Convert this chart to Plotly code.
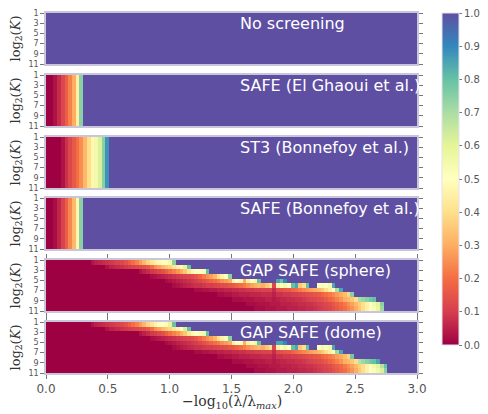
import numpy as np
import plotly.graph_objects as go

# ---------------- data ----------------
N_COLS = 100                      # lambda grid: 0 .. 3 in -log10(lambda/lambda_max)
N_ROWS = 11                       # log2(K) = 1 .. 11
x_edges = np.linspace(0, 3, N_COLS + 1)
y_edges = np.linspace(1, 11, N_ROWS + 1)

panel_titles = ["No screening", "SAFE (El Ghaoui et al.)", "ST3 (Bonnefoy et al.)",
                "SAFE (Bonnefoy et al.)", "GAP SAFE (sphere)", "GAP SAFE (dome)"]

# rows identical for every K in the first four panels (values before they reach 1)
no_screen_row = []
safe_elg_row = [0.0, 0.0, 0.03, 0.07, 0.12, 0.17, 0.23, 0.3, 0.45, 0.75]
st3_row = [0.0, 0.0, 0.0, 0.0, 0.03, 0.08, 0.12, 0.16, 0.2, 0.25, 0.32, 0.4, 0.47,
           0.55, 0.62, 0.75, 0.88]
safe_bon_row = [0.0, 0.0, 0.02, 0.06, 0.11, 0.17, 0.24, 0.32, 0.47, 0.75]

# GAP SAFE panels: first non-zero column per row, and the values from there on
sphere_start = [12, 16, 25, 28, 32, 34, 40, 46, 50, 54, 56]
sphere_vals = [
    [0.03, 0.05, 0.06, 0.07, 0.08, 0.09, 0.1, 0.11, 0.12, 0.14, 0.17, 0.2, 0.23, 0.27,
     0.32, 0.38, 0.42, 0.45, 0.48, 0.5, 0.5, 0.55, 0.75],
    [0.03, 0.05, 0.06, 0.07, 0.08, 0.09, 0.1, 0.11, 0.12, 0.13, 0.14, 0.16, 0.2, 0.25,
     0.28, 0.32, 0.35, 0.38, 0.42, 0.45, 0.48, 0.6, 0.8],
    [0.03, 0.05, 0.07, 0.09, 0.1, 0.12, 0.14, 0.17, 0.2, 0.23, 0.26, 0.3, 0.35, 0.42,
     0.47, 0.5, 0.5, 0.52, 0.8],
    [0.02, 0.03, 0.04, 0.05, 0.06, 0.07, 0.08, 0.09, 0.1, 0.11, 0.12, 0.13, 0.15, 0.18,
     0.22, 0.25, 0.28, 0.32, 0.4, 0.46, 0.5, 0.75],
    [0.02, 0.03, 0.04, 0.05, 0.06, 0.07, 0.08, 0.09, 0.1, 0.12, 0.14, 0.16, 0.18, 0.2,
     0.22, 0.25, 0.27, 0.3, 0.45, 0.5, 0.48, 0.3, 0.45, 0.5, 0.55, 0.8, 1, 1, 1, 1,
     0.85, 0.8, 0.9],
    [0.02, 0.03, 0.04, 0.05, 0.06, 0.07, 0.08, 0.08, 0.09, 0.1, 0.1, 0.11, 0.12, 0.13,
     0.14, 0.15, 0.16, 0.18, 0.2, 0.22, 0.25, 0.28, 0.3, 0.32, 0.3, 0.35, 0.4, 0.12,
     0.45, 0.5, 0.55, 0.5, 0.8, 0.85, 0.35, 0.4, 0.8, 1, 1, 0.5, 0.52, 0.5, 0.55, 0.85],
    [0.02, 0.02, 0.03, 0.03, 0.04, 0.04, 0.05, 0.05, 0.06, 0.06, 0.07, 0.07, 0.08, 0.08,
     0.09, 0.09, 0.1, 0.1, 0.11, 0.11, 0.12, 0.07, 0.13, 0.14, 0.15, 0.16, 0.18, 0.2,
     0.22, 0.24, 0.26, 0.28, 0.3, 0.32, 0.35, 0.4, 0.45, 0.5, 0.7, 0.85],
    [0.02, 0.02, 0.03, 0.03, 0.04, 0.04, 0.05, 0.05, 0.05, 0.06, 0.06, 0.06, 0.07, 0.07,
     0.07, 0.05, 0.08, 0.08, 0.09, 0.09, 0.1, 0.1, 0.11, 0.12, 0.13, 0.14, 0.15, 0.16,
     0.18, 0.2, 0.22, 0.24, 0.27, 0.3, 0.33, 0.38, 0.75],
    [0.02, 0.02, 0.02, 0.03, 0.03, 0.03, 0.04, 0.04, 0.04, 0.05, 0.05, 0.04, 0.05, 0.06,
     0.06, 0.07, 0.07, 0.08, 0.08, 0.09, 0.1, 0.11, 0.12, 0.13, 0.14, 0.16, 0.18, 0.2,
     0.23, 0.26, 0.3, 0.32, 0.35, 0.4, 0.7, 0.72, 0.75, 0.78, 0.8],
    [0.02, 0.02, 0.02, 0.03, 0.03, 0.03, 0.04, 0.04, 0.04, 0.05, 0.05, 0.05, 0.06, 0.06,
     0.07, 0.07, 0.08, 0.08, 0.09, 0.1, 0.11, 0.12, 0.13, 0.15, 0.17, 0.19, 0.22, 0.25,
     0.28, 0.32, 0.36, 0.4, 0.45, 0.5, 0.55, 0.6, 0.75],
    [0.02, 0.02, 0.02, 0.03, 0.03, 0.03, 0.04, 0.04, 0.04, 0.05, 0.05, 0.05, 0.06, 0.06,
     0.07, 0.07, 0.08, 0.09, 0.1, 0.11, 0.12, 0.14, 0.16, 0.18, 0.2, 0.23, 0.26, 0.3,
     0.35, 0.4, 0.45, 0.5, 0.52, 0.58, 0.72],
]

dome_start = [12, 16, 25, 28, 32, 34, 40, 46, 50, 54, 56]
dome_vals = [
    [0.03, 0.05, 0.06, 0.07, 0.08, 0.09, 0.1, 0.11, 0.12, 0.14, 0.17, 0.2, 0.23, 0.27,
     0.32, 0.38, 0.42, 0.46, 0.5, 0.5, 0.52, 0.6, 0.8],
    [0.03, 0.05, 0.06, 0.07, 0.08, 0.09, 0.1, 0.11, 0.12, 0.13, 0.14, 0.16, 0.2, 0.25,
     0.28, 0.32, 0.35, 0.38, 0.42, 0.45, 0.5, 0.62, 0.8],
    [0.03, 0.05, 0.07, 0.09, 0.1, 0.12, 0.14, 0.17, 0.2, 0.23, 0.26, 0.3, 0.35, 0.42,
     0.47, 0.5, 0.52, 0.55, 0.8],
    [0.02, 0.03, 0.04, 0.05, 0.06, 0.07, 0.08, 0.09, 0.1, 0.11, 0.12, 0.13, 0.15, 0.18,
     0.22, 0.25, 0.28, 0.32, 0.4, 0.46, 0.52, 0.75],
    [0.02, 0.03, 0.04, 0.05, 0.06, 0.07, 0.08, 0.09, 0.1, 0.12, 0.14, 0.16, 0.18, 0.2,
     0.22, 0.25, 0.27, 0.3, 0.45, 0.5, 0.5, 0.3, 0.45, 0.5, 0.55, 0.8, 1, 1, 1, 1,
     0.85, 0.85, 0.9],
    [0.02, 0.03, 0.04, 0.05, 0.06, 0.07, 0.08, 0.08, 0.09, 0.1, 0.1, 0.11, 0.12, 0.13,
     0.14, 0.15, 0.16, 0.18, 0.2, 0.22, 0.25, 0.28, 0.3, 0.32, 0.3, 0.35, 0.4, 0.12,
     0.45, 0.5, 0.55, 0.5, 0.8, 0.85, 0.35, 0.4, 0.8, 1, 1, 0.5, 0.55, 0.5, 0.55, 0.85],
    [0.02, 0.02, 0.03, 0.03, 0.04, 0.04, 0.05, 0.05, 0.06, 0.06, 0.07, 0.07, 0.08, 0.08,
     0.09, 0.09, 0.1, 0.1, 0.11, 0.11, 0.12, 0.07, 0.13, 0.14, 0.15, 0.16, 0.18, 0.2,
     0.22, 0.24, 0.26, 0.28, 0.3, 0.32, 0.35, 0.4, 0.45, 0.52, 0.72, 0.85],
    [0.02, 0.02, 0.03, 0.03, 0.04, 0.04, 0.05, 0.05, 0.05, 0.06, 0.06, 0.06, 0.07, 0.07,
     0.07, 0.05, 0.08, 0.08, 0.09, 0.09, 0.1, 0.1, 0.11, 0.12, 0.13, 0.14, 0.15, 0.16,
     0.18, 0.2, 0.22, 0.24, 0.27, 0.3, 0.33, 0.38, 0.78],
    [0.02, 0.02, 0.02, 0.03, 0.03, 0.03, 0.04, 0.04, 0.04, 0.05, 0.05, 0.04, 0.05, 0.06,
     0.06, 0.07, 0.07, 0.08, 0.08, 0.09, 0.1, 0.11, 0.12, 0.13, 0.14, 0.16, 0.18, 0.2,
     0.23, 0.26, 0.3, 0.32, 0.35, 0.4, 0.68, 0.72, 0.75, 0.78, 0.8, 0.85],
    [0.02, 0.02, 0.02, 0.03, 0.03, 0.03, 0.04, 0.04, 0.04, 0.05, 0.05, 0.05, 0.06, 0.06,
     0.07, 0.07, 0.08, 0.08, 0.09, 0.1, 0.11, 0.12, 0.13, 0.15, 0.17, 0.19, 0.22, 0.25,
     0.28, 0.32, 0.36, 0.4, 0.45, 0.5, 0.55, 0.6, 0.68, 0.8],
    [0.02, 0.02, 0.02, 0.03, 0.03, 0.03, 0.04, 0.04, 0.04, 0.05, 0.05, 0.05, 0.06, 0.06,
     0.07, 0.07, 0.08, 0.09, 0.1, 0.11, 0.12, 0.14, 0.16, 0.18, 0.2, 0.23, 0.26, 0.3,
     0.35, 0.4, 0.45, 0.5, 0.52, 0.56, 0.62, 0.75],
]

x_tick_vals = [0.0, 0.5, 1.0, 1.5, 2.0, 2.5, 3.0]
x_tick_text = ["0.0", "0.5", "1.0", "1.5", "2.0", "2.5", "3.0"]
y_tick_vals = [1, 3, 5, 7, 9, 11]
cbar_ticks = [0.0, 0.1, 0.2, 0.3, 0.4, 0.5, 0.6, 0.7, 0.8, 0.9, 1.0]

spectral = ['rgb(158,1,66)', 'rgb(213,62,79)', 'rgb(244,109,67)', 'rgb(253,174,97)',
            'rgb(254,224,139)', 'rgb(255,255,191)', 'rgb(230,245,152)',
            'rgb(171,221,164)', 'rgb(102,194,165)', 'rgb(50,136,189)', 'rgb(94,79,162)']


# ---------------- helpers (decode compact rows) ----------------
def expand(start, vals):
    row = [0.0] * start + list(vals)
    return row + [1.0] * (N_COLS - len(row))


def constant_grid(vals):
    return [expand(0, vals) for _ in range(N_ROWS)]


grids = [
    constant_grid(no_screen_row),
    constant_grid(safe_elg_row),
    constant_grid(st3_row),
    constant_grid(safe_bon_row),
    [expand(s, v) for s, v in zip(sphere_start, sphere_vals)],
    [expand(s, v) for s, v in zip(dome_start, dome_vals)],
]

# ---------------- layout geometry (pixels, page has an 8px body margin) ----------------
OFF = 8
W, H = 488 - 2 * OFF, 414 - OFF
left_px, right_px = 46 - OFF, 417 - OFF
panel_tops = [t - OFF for t in [13, 75, 137, 198, 260, 322]]
panel_h = 51


def px_x(p):
    return p / W


def px_y(p):
    return 1 - p / H


fig = go.Figure()
annotations = []
FRAME = "#c9c6dc"
TICKC = "#777"

for i, z in enumerate(grids):
    n = i + 1
    xa = "x" if n == 1 else f"x{n}"
    ya = "y" if n == 1 else f"y{n}"
    fig.add_trace(go.Heatmap(z=z, x=x_edges, y=y_edges, coloraxis="coloraxis",
                             xaxis=xa, yaxis=ya, zsmooth=False, hoverinfo="skip"))
    top = panel_tops[i]
    bottom = (i == len(grids) - 1)
    has_xticks = i >= 4
    xkey = "xaxis" if n == 1 else f"xaxis{n}"
    ykey = "yaxis" if n == 1 else f"yaxis{n}"
    fig.layout[xkey] = dict(
        domain=[px_x(left_px), px_x(right_px)], anchor=ya, range=[0, 3],
        tickvals=x_tick_vals, ticktext=x_tick_text, showticklabels=bottom,
        ticks="outside" if has_xticks else "", ticklen=4, tickcolor=TICKC,
        showline=True, linecolor=FRAME, linewidth=1.5,
        mirror="ticks" if has_xticks else True,
        showgrid=False, zeroline=False, automargin=False,
        tickfont=dict(family="DejaVu Sans", size=12, color="#555"),
    )
    fig.layout[ykey] = dict(
        domain=[px_y(top + panel_h), px_y(top)], anchor=xa, range=[11, 1],
        tickvals=y_tick_vals, ticks="outside", ticklen=4, tickcolor=TICKC,
        showline=True, linecolor=FRAME, linewidth=1.5, mirror="ticks",
        showgrid=False, zeroline=False, automargin=False,
        tickfont=dict(family="DejaVu Sans", size=8, color="#555"),
    )
    annotations.append(dict(
        text=panel_titles[i], xref="paper", yref="paper",
        x=px_x(238 - OFF), y=px_y(top + 10), xanchor="left", yanchor="middle",
        showarrow=False, font=dict(family="DejaVu Sans", size=16, color="white")))
    annotations.append(dict(
        text="log<sub>2</sub>(<i>K</i>)", xref="paper", yref="paper",
        x=px_x(16 - OFF), y=px_y(top + panel_h / 2), xanchor="center", yanchor="middle",
        textangle=-90, showarrow=False,
        font=dict(family="DejaVu Serif", size=13, color="#333")))

annotations.append(dict(
    text="\u2212log<sub>10</sub>(\u03bb/\u03bb<sub><i>max</i></sub>)",
    xref="paper", yref="paper", x=px_x((left_px + right_px) / 2), y=px_y(402 - OFF),
    xanchor="center", yanchor="middle", showarrow=False,
    font=dict(family="DejaVu Serif", size=14, color="#333")))

fig.update_layout(
    width=W, height=H, margin=dict(l=0, r=0, t=0, b=0, pad=0, autoexpand=False),
    paper_bgcolor="white", plot_bgcolor="white",
    annotations=annotations,
    coloraxis=dict(
        colorscale=[[k / 10, c] for k, c in enumerate(spectral)], cmin=0, cmax=1,
        colorbar=dict(
            x=px_x(442 - OFF), xanchor="left", xpad=0, y=px_y(13 - OFF), yanchor="top",
            ypad=0, len=332, lenmode="pixels", thickness=17, thicknessmode="pixels",
            tickvals=cbar_ticks, ticktext=[f"{v:.1f}" for v in cbar_ticks],
            ticks="outside", ticklen=3, tickcolor=TICKC, outlinewidth=1,
            outlinecolor="#e4e2ee", ticklabeloverflow="allow",
            tickfont=dict(family="DejaVu Sans", size=10, color="#555"),
        ),
    ),
    showlegend=False,
)

fig.write_html("out.html")
